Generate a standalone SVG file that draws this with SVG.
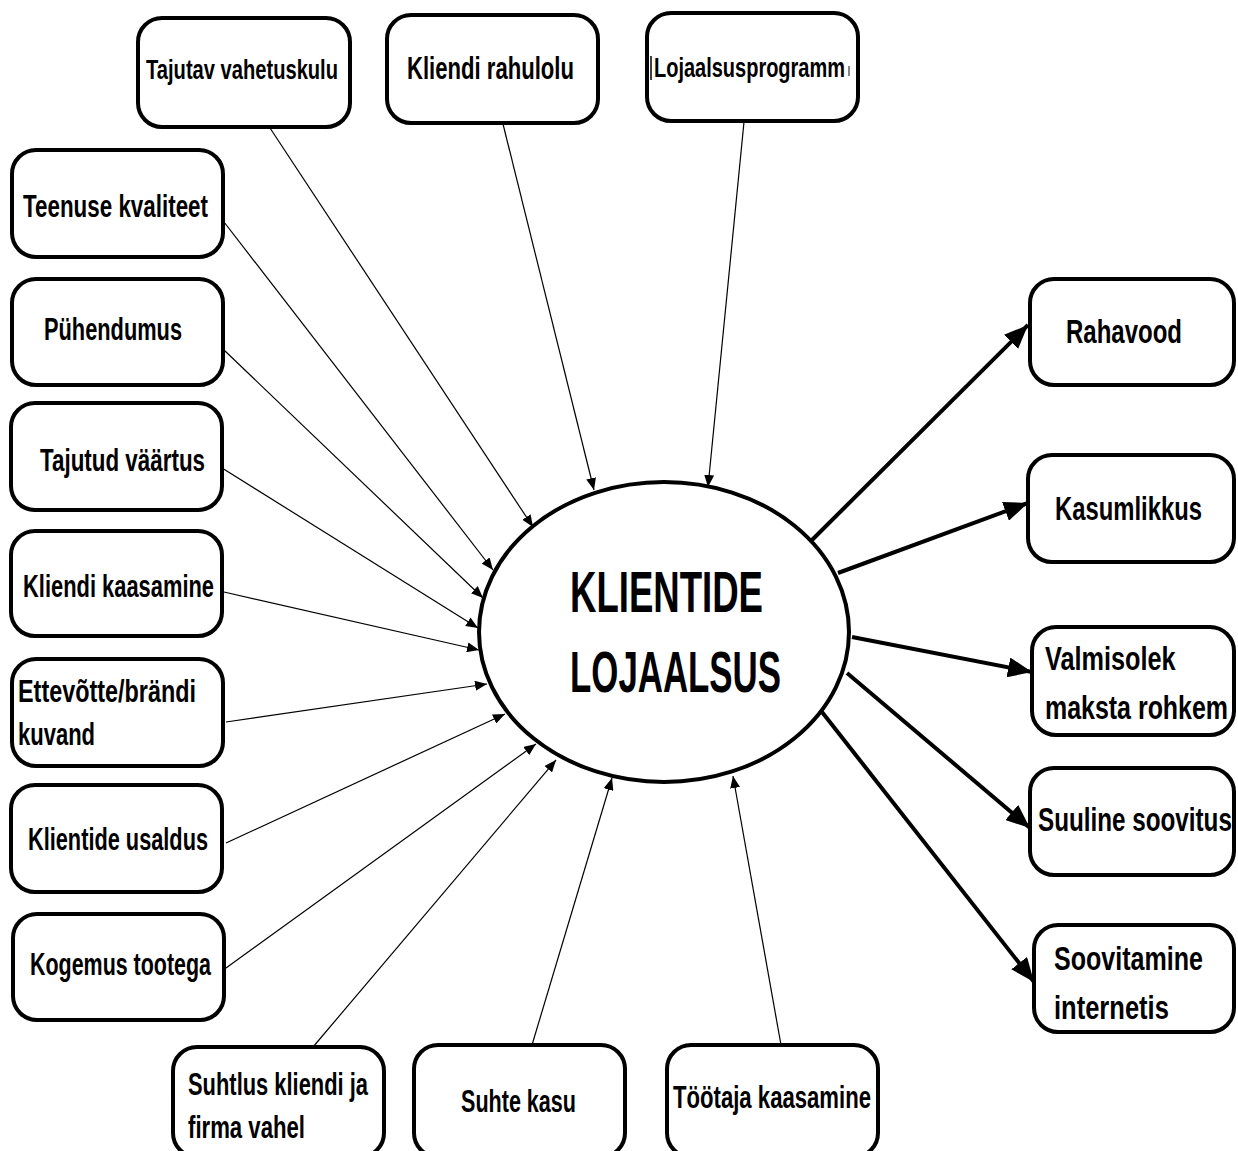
<svg xmlns="http://www.w3.org/2000/svg" width="1238" height="1151" viewBox="0 0 1238 1151">
<style>
.box{fill:#fff;stroke:#000;stroke-width:4}
.t{font-family:"Liberation Sans",Arial,sans-serif;font-weight:bold;fill:#000;font-size:32px}
.s28{font-size:28px}
.s34{font-size:34px}
.s56{font-size:57px}
.thin{stroke:#000;stroke-width:1.2;fill:none;marker-end:url(#ah)}
.thick{stroke:#000;stroke-width:4;fill:none;marker-end:url(#AH)}
</style>
<defs>
<marker id="ah" markerUnits="userSpaceOnUse" markerWidth="12" markerHeight="10" refX="12" refY="5" orient="auto"><path d="M0,0 L12,5 L0,10 z" fill="#000"/></marker>
<marker id="AH" markerUnits="userSpaceOnUse" markerWidth="24" markerHeight="20" refX="24" refY="10" orient="auto"><path d="M0,0 L24,10 L0,20 z" fill="#000"/></marker>
</defs>
<rect width="1238" height="1151" fill="#fff"/>
<g id="connectors">
<line class="thin" x1="270" y1="128" x2="533" y2="527"/>
<line class="thin" x1="503" y1="124" x2="594" y2="490"/>
<line class="thin" x1="744" y1="122" x2="708" y2="487"/>
<line class="thin" x1="224" y1="222" x2="493" y2="570"/>
<line class="thin" x1="224" y1="350" x2="483" y2="598"/>
<line class="thin" x1="222" y1="468" x2="478" y2="628"/>
<line class="thin" x1="224" y1="592" x2="479" y2="650"/>
<line class="thin" x1="226" y1="722" x2="487" y2="684"/>
<line class="thin" x1="226" y1="843" x2="505" y2="714"/>
<line class="thin" x1="226" y1="968" x2="536" y2="744"/>
<line class="thin" x1="313" y1="1047" x2="556" y2="760"/>
<line class="thin" x1="532" y1="1045" x2="612" y2="778"/>
<line class="thin" x1="781" y1="1045" x2="733" y2="776"/>
<line class="thick" x1="812" y1="540" x2="1028" y2="325"/>
<line class="thick" x1="838" y1="573" x2="1028" y2="503"/>
<line class="thick" x1="852" y1="637" x2="1032" y2="672"/>
<line class="thick" x1="847" y1="673" x2="1030" y2="828"/>
<line class="thick" x1="822" y1="712" x2="1034" y2="982"/>
</g>
<g id="center">
<ellipse cx="664" cy="632" rx="185" ry="150" fill="#fff" stroke="#000" stroke-width="4"/>
<text class="t s56" x="570" y="612" textLength="193" lengthAdjust="spacingAndGlyphs">KLIENTIDE</text>
<text class="t s56" x="570" y="692" textLength="211" lengthAdjust="spacingAndGlyphs">LOJAALSUS</text>
</g>
<g id="n-tajutav"><rect class="box" x="138" y="18" width="212" height="109" rx="24"/><text class="t s28" x="146" y="79" textLength="192" lengthAdjust="spacingAndGlyphs">Tajutav vahetuskulu</text></g>
<g id="n-rahulolu"><rect class="box" x="387" y="15" width="211" height="108" rx="24"/><text class="t" x="407" y="79" textLength="167" lengthAdjust="spacingAndGlyphs">Kliendi rahulolu</text></g>
<g id="n-programm"><rect class="box" x="647" y="13" width="211" height="108" rx="24"/><line x1="651" y1="56" x2="651" y2="80" stroke="#000" stroke-width="1.5"/><text class="t s28" x="654" y="77" textLength="191" lengthAdjust="spacingAndGlyphs">Lojaalsusprogramm</text><line x1="849" y1="66" x2="849" y2="76" stroke="#333" stroke-width="1.2"/></g>
<g id="n-teenuse"><rect class="box" x="12" y="150" width="211" height="107" rx="24"/><text class="t" x="23" y="217" textLength="185" lengthAdjust="spacingAndGlyphs">Teenuse kvaliteet</text></g>
<g id="n-puhendumus"><rect class="box" x="12" y="279" width="211" height="106" rx="24"/><text class="t" x="44" y="340" textLength="138" lengthAdjust="spacingAndGlyphs">Pühendumus</text></g>
<g id="n-vaartus"><rect class="box" x="11" y="403" width="211" height="107" rx="24"/><text class="t" x="40" y="471" textLength="165" lengthAdjust="spacingAndGlyphs">Tajutud väärtus</text></g>
<g id="n-kaasamine"><rect class="box" x="11" y="531" width="211" height="105" rx="24"/><text class="t" x="23" y="597" textLength="191" lengthAdjust="spacingAndGlyphs">Kliendi kaasamine</text></g>
<g id="n-kuvand"><rect class="box" x="12" y="659" width="211" height="107" rx="24"/><text class="t" x="18" y="702" textLength="178" lengthAdjust="spacingAndGlyphs">Ettevõtte/brändi</text><text class="t" x="18" y="745" textLength="77" lengthAdjust="spacingAndGlyphs">kuvand</text></g>
<g id="n-usaldus"><rect class="box" x="11" y="785" width="211" height="107" rx="24"/><text class="t" x="28" y="850" textLength="180" lengthAdjust="spacingAndGlyphs">Klientide usaldus</text></g>
<g id="n-kogemus"><rect class="box" x="13" y="914" width="211" height="106" rx="24"/><text class="t" x="30" y="975" textLength="181" lengthAdjust="spacingAndGlyphs">Kogemus tootega</text></g>
<g id="n-suhtlus"><rect class="box" x="173" y="1047" width="211" height="110" rx="24"/><text class="t" x="188" y="1095" textLength="180" lengthAdjust="spacingAndGlyphs">Suhtlus kliendi ja</text><text class="t" x="188" y="1138" textLength="117" lengthAdjust="spacingAndGlyphs">firma vahel</text></g>
<g id="n-suhtekasu"><rect class="box" x="414" y="1045" width="211" height="112" rx="24"/><text class="t" x="461" y="1112" textLength="115" lengthAdjust="spacingAndGlyphs">Suhte kasu</text></g>
<g id="n-tootaja"><rect class="box" x="667" y="1045" width="211" height="112" rx="24"/><text class="t" x="673" y="1108" textLength="198" lengthAdjust="spacingAndGlyphs">Töötaja kaasamine</text></g>
<g id="n-rahavood"><rect class="box" x="1030" y="279" width="204" height="106" rx="24"/><text class="t s34" transform="translate(1066,343) scale(0.706,1)">Rahavood</text></g>
<g id="n-kasumlikkus"><rect class="box" x="1028" y="455" width="206" height="107" rx="24"/><text class="t s34" transform="translate(1055,520) scale(0.701,1)">Kasumlikkus</text></g>
<g id="n-valmisolek"><rect class="box" x="1032" y="627" width="202" height="108" rx="24"/><text class="t s34" transform="translate(1045,670) scale(0.743,1)">Valmisolek</text><text class="t s34" transform="translate(1045,719) scale(0.734,1)">maksta rohkem</text></g>
<g id="n-suuline"><rect class="box" x="1030" y="768" width="204" height="107" rx="24"/><text class="t s34" transform="translate(1038,831) scale(0.713,1)">Suuline soovitus</text></g>
<g id="n-internetis"><rect class="box" x="1034" y="925" width="200" height="107" rx="24"/><text class="t s34" transform="translate(1054,970) scale(0.737,1)">Soovitamine</text><text class="t s34" transform="translate(1054,1019) scale(0.751,1)">internetis</text></g>
</svg>
